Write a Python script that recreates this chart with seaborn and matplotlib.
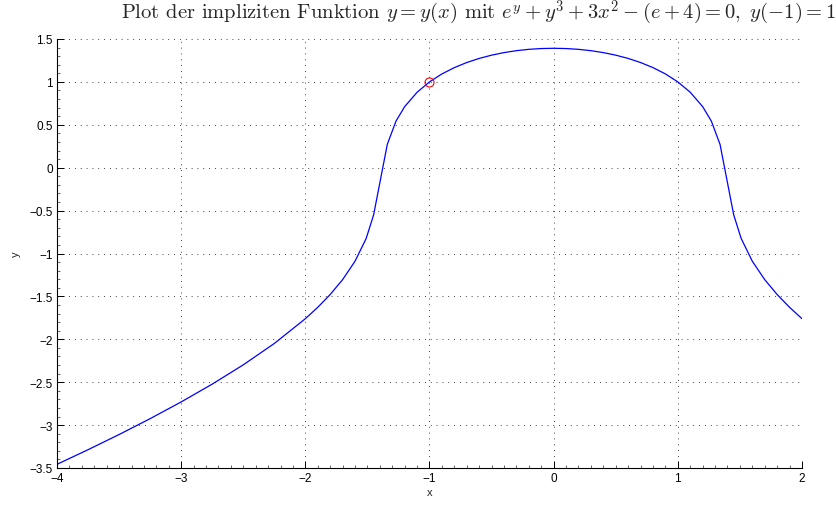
import numpy as np
import pandas as pd
import seaborn as sns
import matplotlib
matplotlib.use("Agg")
from matplotlib import pyplot as plt
from matplotlib.ticker import MultipleLocator

# Punkte der impliziten Kurve
x_links = [-4.0, -3.75, -3.5, -3.25, -3.0, -2.75, -2.5, -2.25, -2.0, -1.9, -1.8,
           -1.7, -1.6, -1.51, -1.45, -1.34, -1.27, -1.2, -1.1, -1.0, -0.9, -0.8,
           -0.7, -0.6, -0.5, -0.4, -0.3, -0.2, -0.1]
y_links = [-3.457, -3.2868, -3.1099, -2.9249, -2.7300, -2.5224, -2.2978, -2.0487,
           -1.7602, -1.6272, -1.4782, -1.3051, -1.0907, -0.8245, -0.5499, 0.2712,
           0.5424, 0.7118, 0.8791, 1.0, 1.0929, 1.1665, 1.2257, 1.2735, 1.3116,
           1.3414, 1.3639, 1.3795, 1.3888]
x_mitte = [0.0]
y_mitte = [1.3918]
x_rechts = [0.1, 0.2, 0.3, 0.4, 0.5, 0.6, 0.7, 0.8, 0.9, 1.0, 1.1, 1.2, 1.27,
            1.34, 1.45, 1.51, 1.6, 1.7, 1.8, 1.9, 2.0]
y_rechts = [1.3888, 1.3795, 1.3639, 1.3414, 1.3116, 1.2735, 1.2257, 1.1665,
            1.0929, 1.0, 0.8791, 0.7118, 0.5424, 0.2712, -0.5499, -0.8245,
            -1.0907, -1.3051, -1.4782, -1.6272, -1.7602]

# Anfangspunkt y(-1) = 1
x0 = [-1.0]
y0 = [1.0]

df = pd.DataFrame({"x": x_links + x_mitte + x_rechts,
                   "y": y_links + y_mitte + y_rechts})

sns.set_style("white")
plt.rcParams['font.family'] = ['Liberation Sans', 'DejaVu Sans']
plt.rcParams['mathtext.fontset'] = 'cm'

fig = plt.figure(figsize=(8.37, 5.06), dpi=100)
ax = fig.add_axes([57 / 837, 1 - 469 / 506, 745 / 837, 429 / 506])

sns.lineplot(data=df, x="x", y="y", sort=False, color=(0, 0, 1), linewidth=0.9, ax=ax)
ax.plot(x0, y0, 'o', markerfacecolor='none', markeredgecolor='red',
        markersize=6.5, markeredgewidth=0.8)

ax.set_xlim(-4, 2)
ax.set_ylim(-3.5, 1.5)
ax.xaxis.set_minor_locator(MultipleLocator(0.1))
ax.yaxis.set_minor_locator(MultipleLocator(0.1))
ax.grid(True, which='major', linestyle=(0, (1, 6)), color='black', linewidth=0.6)

for s in ['top', 'right']:
    ax.spines[s].set_visible(False)
for s in ['left', 'bottom']:
    ax.spines[s].set_color('black')
    ax.spines[s].set_linewidth(0.8)

ax.tick_params(axis='both', which='major', direction='in', length=5, width=0.7,
               labelsize=8.5, colors='black', bottom=True, left=True, pad=3)
ax.tick_params(axis='both', which='minor', direction='in', length=2.5, width=0.5,
               bottom=True, left=True)

ax.set_xticks([-4, -3, -2, -1, 0, 1, 2])
ax.set_xticklabels(["\u22124", "\u22123", "\u22122", "\u22121", "0", "1", "2"])
yt = [-3.5, -3, -2.5, -2, -1.5, -1, -0.5, 0, 0.5, 1, 1.5]
ax.set_yticks(yt)
ax.set_yticklabels([("%g" % v).replace("-", "\u2212") for v in yt])

ax.set_xlabel("x", fontsize=8, labelpad=2)
ax.set_ylabel("y", fontsize=8, labelpad=6)

fig.text(478 / 837, 1 - 13 / 506,
         r"Plot der impliziten Funktion $y = y(x)$ mit $e^y + y^3 + 3x^2 - (e + 4) = 0,\ y(-1) = 1$",
         ha='center', va='center', fontsize=14.8, family='cmr10')

fig.savefig("out.png", dpi=100)
